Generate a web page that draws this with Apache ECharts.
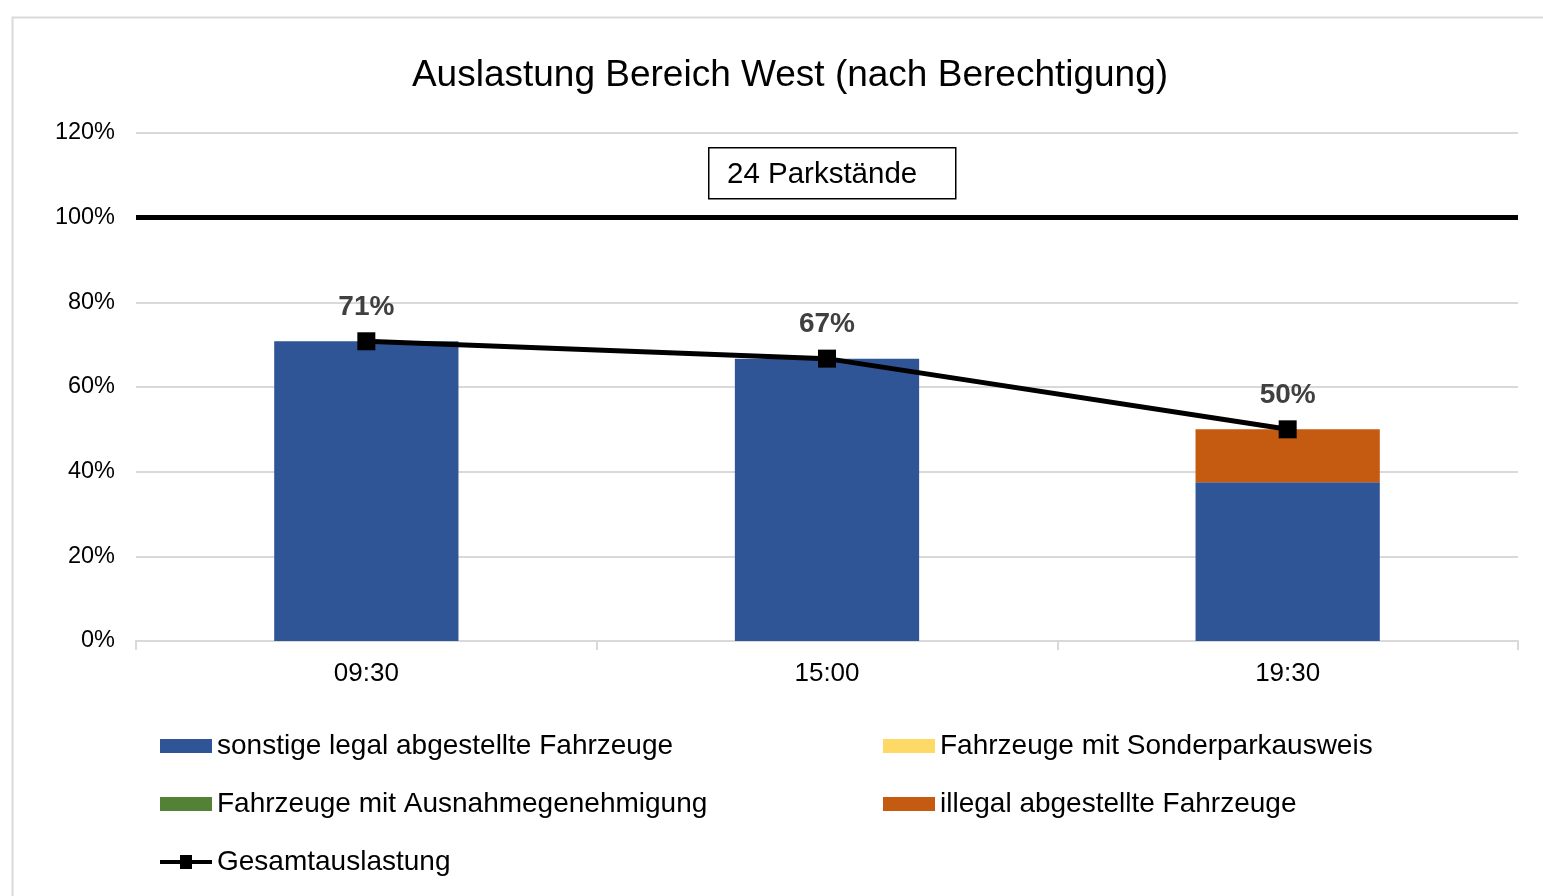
<!DOCTYPE html>
<html>
<head>
<meta charset="utf-8">
<script src="https://cdn.jsdelivr.net/npm/echarts@6/dist/echarts.min.js"></script>
<style>
  html, body { margin: 0; padding: 0; background: #fff; }
  #chart { width: 1543px; height: 896px; }
</style>
</head>
<body>
<div id="chart"></div>
<script>
  // Zeitpunkte und Anteile in Prozent (24 Parkstände)
  var zeiten = ['09:30', '15:00', '19:30'];
  var sonstigeLegal = [70.8, 66.7, 37.5];
  var ausnahme = [0, 0, 0];
  var sonderparkausweis = [0, 0, 0];
  var illegal = [0, 0, 12.5];
  var gesamt = [70.8, 66.7, 50];
  var kapazitaet = 100;

  var font = '"Liberation Sans", Arial, sans-serif';
  // Linie mit Quadrat als Legendensymbol
  var linienIcon = 'path://M0,5L20,5L20,0L32,0L32,5L52,5L52,9L32,9L32,14L20,14L20,9L0,9Z';

  var chart = echarts.init(document.getElementById('chart'));

  function balken(name, data, color) {
    return {
      name: name,
      type: 'bar',
      stack: 'auslastung',
      data: data,
      barWidth: '40%',
      itemStyle: { color: color },
      silent: true
    };
  }

  var legendText = { fontFamily: font, fontSize: 28, color: '#000', lineHeight: 30 };

  var option = {
    backgroundColor: '#fff',
    animation: false,
    textStyle: { fontFamily: font },
    title: {
      text: 'Auslastung Bereich West (nach Berechtigung)',
      left: 785,
      textAlign: 'center',
      top: 52,
      textStyle: { fontFamily: font, fontSize: 37, fontWeight: 'normal', color: '#000' }
    },
    grid: { left: 136, right: 25, top: 133, bottom: 255 },
    legend: [
      {
        orient: 'vertical',
        left: 160,
        top: 731,
        padding: 0,
        itemWidth: 52,
        itemHeight: 14,
        itemGap: 28,
        data: [
          { name: 'sonstige legal abgestellte Fahrzeuge', icon: 'rect' },
          { name: 'Fahrzeuge mit Ausnahmegenehmigung', icon: 'rect' },
          { name: 'Gesamtauslastung', icon: linienIcon }
        ],
        textStyle: legendText
      },
      {
        orient: 'vertical',
        left: 883,
        top: 731,
        padding: 0,
        itemWidth: 52,
        itemHeight: 14,
        itemGap: 28,
        data: [
          { name: 'Fahrzeuge mit Sonderparkausweis', icon: 'rect' },
          { name: 'illegal abgestellte Fahrzeuge', icon: 'rect' }
        ],
        textStyle: legendText
      }
    ],
    xAxis: {
      type: 'category',
      data: zeiten,
      axisLine: { lineStyle: { color: '#d9d9d9', width: 2 } },
      axisTick: { show: true, length: 9, lineStyle: { color: '#d9d9d9', width: 2 } },
      axisLabel: { fontFamily: font, fontSize: 26, color: '#000', margin: 20 }
    },
    yAxis: {
      type: 'value',
      min: 0,
      max: 120,
      interval: 20,
      axisLine: { show: false },
      axisTick: { show: false },
      axisLabel: { formatter: '{value}%', fontFamily: font, fontSize: 23.5, color: '#000', margin: 21 },
      splitLine: { lineStyle: { color: '#d9d9d9', width: 2 } }
    },
    series: [
      balken('sonstige legal abgestellte Fahrzeuge', sonstigeLegal, '#2F5597'),
      balken('Fahrzeuge mit Ausnahmegenehmigung', ausnahme, '#548235'),
      balken('Fahrzeuge mit Sonderparkausweis', sonderparkausweis, '#FFD966'),
      balken('illegal abgestellte Fahrzeuge', illegal, '#C55A11'),
      {
        name: 'Gesamtauslastung',
        type: 'line',
        data: gesamt,
        symbol: 'rect',
        symbolSize: 18,
        lineStyle: { color: '#000', width: 5 },
        itemStyle: { color: '#000' },
        z: 5,
        label: {
          show: true,
          position: 'top',
          distance: 11,
          formatter: function (p) { return Math.round(p.value) + '%'; },
          fontFamily: font,
          fontSize: 28,
          fontWeight: 'bold',
          color: '#404040'
        },
        markLine: {
          silent: true,
          symbol: 'none',
          label: { show: false },
          lineStyle: { color: '#000', width: 5, type: 'solid' },
          data: [{ yAxis: kapazitaet }]
        }
      }
    ],
    graphic: [
      {
        type: 'rect',
        left: 10,
        top: 15,
        shape: { width: 1600, height: 1000 },
        style: { fill: 'none', stroke: '#d9d9d9', lineWidth: 2 },
        silent: true
      },
      {
        type: 'rect',
        left: 708,
        top: 147,
        shape: { width: 247, height: 51 },
        style: { fill: '#fff', stroke: '#000', lineWidth: 1.5 },
        z: 10
      },
      {
        type: 'text',
        x: 727,
        y: 175,
        style: { text: '24 Parkstände', font: '29.5px ' + font, fill: '#000', verticalAlign: 'middle' },
        z: 11
      }
    ]
  };

  chart.setOption(option);
</script>
</body>
</html>
